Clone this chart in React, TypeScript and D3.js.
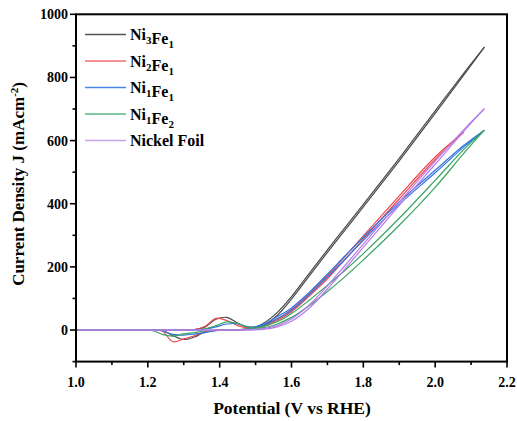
import React, { useEffect, useRef } from "react";
import * as d3 from "d3";

// potential grid (V vs RHE) shared by all scans
const potential = [1.0, 1.1, 1.2, 1.22, 1.24, 1.27, 1.3, 1.33, 1.36, 1.39, 1.42, 1.45, 1.48, 1.52, 1.56, 1.6, 1.65, 1.7, 1.75, 1.8, 1.9, 2.0, 2.08, 2.137];

// current density (mA cm-2), forward (anodic) and reverse scans
const ni3fe1Fwd = [0, 0, 0, 0, 0, 0, 0, 1, 10, 34, 40, 22, 9, 14, 46, 98, 172, 246, 318, 390, 536, 686, 808, 896];
const ni3fe1Rev = [0, 0, 0, 0, -1, -18, -30, -22, -5, 0, 0, 1, 4, 20, 55, 106, 180, 254, 326, 398, 544, 694, 814, 896];
const ni2fe1Fwd = [0, 0, 0, 0, 0, 0, 0, 1, 12, 37, 30, 14, 7, 11, 30, 58, 108, 162, 225, 288, 415, 540, 627, null];
const ni2fe1Rev = [0, 0, 0, 0, -3, -37, -28, -18, -6, -1, 0, 1, 3, 13, 34, 65, 115, 172, 234, 298, 425, 548, 627, null];
const ni1fe1Fwd = [0, 0, 0, 0, 0, 0, 0, 0, 3, 10, 19, 20, 10, 15, 36, 62, 112, 168, 225, 284, 398, 498, 580, 633];
const ni1fe1Rev = [0, 0, 0, 0, -2, -14, -16, -13, -8, -2, 0, 1, 4, 17, 42, 70, 120, 177, 236, 294, 406, 506, 585, 633];
const ni1fe2Fwd = [0, 0, 0, 0, 0, 0, 0, 0, 4, 14, 26, 20, 9, 7, 19, 40, 78, 122, 170, 222, 332, 452, 560, 633];
const ni1fe2Rev = [0, 0, 0, -4, -14, -19, -12, -8, -3, -1, 0, 1, 3, 11, 26, 52, 95, 142, 190, 242, 354, 474, 572, 633];
const nickelFwd = [0, 0, 0, 0, 0, 0, 0, 0, 0, 0, 0, 0, 0, 2, 10, 28, 70, 130, 195, 262, 395, 525, 630, 701];
const nickelRev = [0, 0, 0, 0, 0, 0, 0, 0, 0, 0, 0, 0, 1, 4, 14, 35, 80, 140, 206, 272, 405, 535, 635, 701];

const seriesColors = ["#4a4a4a", "#f0474f", "#2f74e0", "#38a363", "#b57cea"];
const legendColors = ["#555555", "#f56d70", "#4a86e6", "#5ab683", "#c9a3f0"];
const seriesScans = [
  [ni3fe1Fwd, ni3fe1Rev],
  [ni2fe1Fwd, ni2fe1Rev],
  [ni1fe1Fwd, ni1fe1Rev],
  [ni1fe2Fwd, ni1fe2Rev],
  [nickelFwd, nickelRev],
];

// legend labels: [text, subscript] pairs
const legendParts = [
  [["Ni", "3"], ["Fe", "1"]],
  [["Ni", "2"], ["Fe", "1"]],
  [["Ni", "1"], ["Fe", "1"]],
  [["Ni", "1"], ["Fe", "2"]],
  [["Nickel Foil", ""]],
];

const xTicks = [1.0, 1.2, 1.4, 1.6, 1.8, 2.0, 2.2];
const yTicks = [0, 200, 400, 600, 800, 1000];

const Chart = () => {
  const ref = useRef(null);

  useEffect(() => {
    if (!ref.current) return;
    const width = 517, height = 421;
    const left = 76, right = 507, top = 14.3, bottom = 361.6;
    const font = "Liberation Serif, Times New Roman, serif";

    const svg = d3.select(ref.current);
    svg.selectAll("*").remove();
    svg.attr("width", width).attr("height", height).style("font-family", font);

    const x = d3.scaleLinear().domain([1.0, 2.2]).range([left, right]);
    const y = d3.scaleLinear().domain([-100, 1000]).range([bottom, top]);

    svg.append("rect").attr("width", width).attr("height", height).attr("fill", "white");

    // curves
    const line = d3.line<number | null>()
      .defined((d) => d !== null)
      .x((_, i) => x(potential[i]))
      .y((d) => y(d as number))
      .curve(d3.curveCatmullRom.alpha(0.5));

    seriesScans.forEach((scans, s) => {
      scans.forEach((vals) => {
        svg.append("path")
          .attr("d", line(vals))
          .attr("fill", "none")
          .attr("stroke", seriesColors[s])
          .attr("stroke-width", 1.2)
          .attr("stroke-linejoin", "round");
      });
    });

    // frame
    svg.append("rect")
      .attr("x", left).attr("y", top)
      .attr("width", right - left).attr("height", bottom - top)
      .attr("fill", "none").attr("stroke", "black").attr("stroke-width", 2);

    // x ticks
    d3.range(1.0, 2.21, 0.1).forEach((v, i) => {
      const major = i % 2 === 0;
      svg.append("line")
        .attr("x1", x(v)).attr("x2", x(v))
        .attr("y1", bottom).attr("y2", bottom + (major ? 6 : 3.5))
        .attr("stroke", "black").attr("stroke-width", 1.6);
    });
    xTicks.forEach((v) => {
      svg.append("text")
        .attr("x", x(v)).attr("y", bottom + 25)
        .attr("text-anchor", "middle")
        .attr("font-weight", "bold").attr("font-size", 14)
        .text(d3.format(".1f")(v));
    });

    // y ticks
    d3.range(-100, 1001, 100).forEach((v) => {
      const major = v % 200 === 0;
      svg.append("line")
        .attr("x1", left).attr("x2", left - (major ? 6 : 3.5))
        .attr("y1", y(v)).attr("y2", y(v))
        .attr("stroke", "black").attr("stroke-width", 1.6);
    });
    yTicks.forEach((v) => {
      svg.append("text")
        .attr("x", left - 8).attr("y", y(v) + 5)
        .attr("text-anchor", "end")
        .attr("font-weight", "bold").attr("font-size", 14)
        .text(v);
    });

    // axis titles
    svg.append("text")
      .attr("x", (left + right) / 2 + 0.5).attr("y", 414)
      .attr("text-anchor", "middle")
      .attr("font-weight", "bold").attr("font-size", 17.5)
      .text("Potential (V vs RHE)");

    const yt = svg.append("text")
      .attr("transform", `translate(24, ${(top + bottom) / 2 - 4}) rotate(-90)`)
      .attr("text-anchor", "middle")
      .attr("font-weight", "bold").attr("font-size", 17);
    yt.append("tspan").text("Current Density J (mAcm");
    yt.append("tspan").attr("dy", -6).attr("font-size", 11).text("-2");
    yt.append("tspan").attr("dy", 6).text(")");

    // legend
    legendParts.forEach((parts, i) => {
      const ly = 34.5 + i * 26.5;
      svg.append("line")
        .attr("x1", 85).attr("x2", 126)
        .attr("y1", ly).attr("y2", ly)
        .attr("stroke", legendColors[i]).attr("stroke-width", 1.4);
      const t = svg.append("text")
        .attr("x", 130).attr("y", ly + 5.5)
        .attr("font-weight", "bold").attr("font-size", 16);
      parts.forEach(([txt, sub]) => {
        t.append("tspan").text(txt);
        if (sub) {
          t.append("tspan").attr("dy", 4).attr("font-size", 11).text(sub);
          t.append("tspan").attr("dy", -4).text("");
        }
      });
    });
  }, []);

  return <svg ref={ref}></svg>;
};

export default function App() {
  return (
    <div style={{ position: "absolute", left: 0, top: 0 }}>
      <Chart />
    </div>
  );
}
